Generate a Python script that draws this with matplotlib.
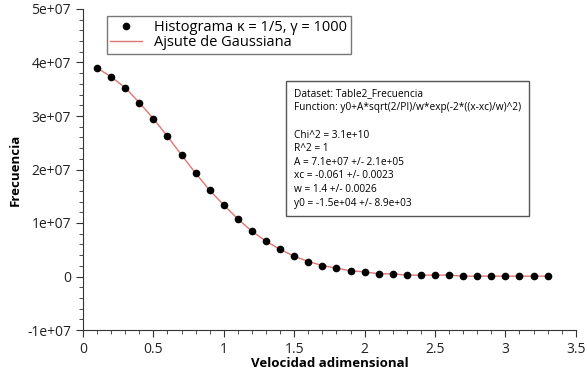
import matplotlib.pyplot as plt
from matplotlib.ticker import MultipleLocator, FuncFormatter

plt.rcParams['font.family'] = ['Open Sans', 'DejaVu Sans']

velocidad = [0.1, 0.2, 0.3, 0.4, 0.5, 0.6, 0.7, 0.8, 0.9, 1.0, 1.1,
             1.2, 1.3, 1.4, 1.5, 1.6, 1.7, 1.8, 1.9, 2.0, 2.1, 2.2,
             2.3, 2.4, 2.5, 2.6, 2.7, 2.8, 2.9, 3.0, 3.1, 3.2, 3.3]
frecuencia = [3.90e7, 3.73e7, 3.53e7, 3.25e7, 2.95e7, 2.62e7, 2.27e7, 1.93e7,
              1.61e7, 1.335e7, 1.075e7, 0.845e7, 0.66e7, 0.505e7, 0.38e7, 0.28e7,
              0.205e7, 0.156e7, 0.106e7, 0.087e7, 0.05e7, 0.05e7, 0.026e7, 0.026e7,
              0.026e7, 0.026e7, 0.007e7, 0.007e7, 0.007e7, 0.007e7, 0.007e7, 0.007e7,
              0.007e7]

fit_text = ("Dataset: Table2_Frecuencia\n"
            "Function: y0+A*sqrt(2/PI)/w*exp(-2*((x-xc)/w)^2)\n"
            "\n"
            "Chi^2 = 3.1e+10\n"
            "R^2 = 1\n"
            "A = 7.1e+07 +/- 2.1e+05\n"
            "xc = -0.061 +/- 0.0023\n"
            "w = 1.4 +/- 0.0026\n"
            "y0 = -1.5e+04 +/- 8.9e+03")

fig = plt.figure(figsize=(5.86, 3.75), dpi=100)
ax = fig.add_axes([0.1416, 0.12, 0.841, 0.856])

ax.plot(velocidad, frecuencia, color='#e07575', linewidth=1.0,
        label='Ajsute de Gaussiana', zorder=2)
ax.plot(velocidad, frecuencia, 'o', color='black', markersize=4.5,
        label='Histograma \u03ba = 1/5, \u03b3 = 1000', zorder=3)

ax.set_xlim(0, 3.5)
ax.set_ylim(-1e7, 5e7)
ax.xaxis.set_major_locator(MultipleLocator(0.5))
ax.xaxis.set_minor_locator(MultipleLocator(0.1))
ax.yaxis.set_major_locator(MultipleLocator(1e7))
ax.yaxis.set_minor_locator(MultipleLocator(2e6))


def yfmt(v, pos):
    if abs(v) < 1:
        return '0'
    return '%de+07' % round(v / 1e7)


def xfmt(v, pos):
    return ('%g' % v)


ax.yaxis.set_major_formatter(FuncFormatter(yfmt))
ax.xaxis.set_major_formatter(FuncFormatter(xfmt))

for side in ['top', 'right']:
    ax.spines[side].set_visible(False)
for side in ['left', 'bottom']:
    ax.spines[side].set_color('#333333')
ax.tick_params(which='major', direction='out', length=5, color='#333333',
               labelsize=10, labelcolor='#222222')
ax.tick_params(which='minor', direction='out', length=3, color='#333333')

ax.set_xlabel('Velocidad adimensional', fontsize=9.5, fontweight='bold', labelpad=0)
ax.set_ylabel('Frecuencia', fontsize=9.5, fontweight='bold', labelpad=4)

handles, labels = ax.get_legend_handles_labels()
leg = ax.legend(handles[::-1], labels[::-1], loc='upper left',
                bbox_to_anchor=(0.048, 0.978), borderaxespad=0,
                fancybox=False, edgecolor='#555555', fontsize=10.5,
                handlelength=2.2, borderpad=0.25, labelspacing=0.05,
                handletextpad=0.8)
leg.get_frame().set_linewidth(1.0)

ax.text(0.428, 0.752, fit_text, transform=ax.transAxes, fontsize=7.3,
        va='top', ha='left', linespacing=1.33,
        bbox=dict(boxstyle='square,pad=0.75', facecolor='white',
                  edgecolor='#555555', linewidth=1.0))

fig.savefig('out.png', dpi=100)
